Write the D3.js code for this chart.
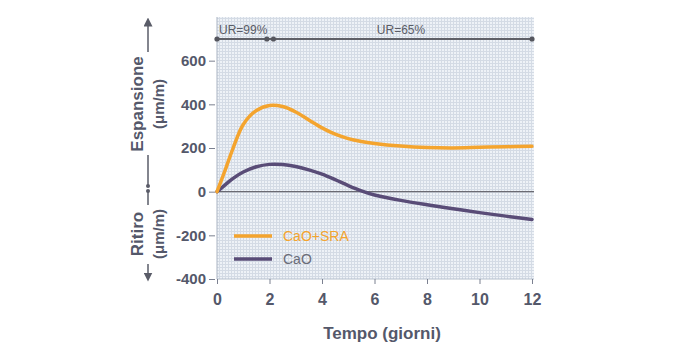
<!DOCTYPE html>
<html><head><meta charset="utf-8">
<script src="https://cdn.jsdelivr.net/npm/d3@7"></script>
<style>
html,body{margin:0;padding:0;background:#fff;}
svg{display:block;font-family:"Liberation Sans",Arial,sans-serif;}
</style></head>
<body><svg id="c" width="700" height="355"></svg>
<script>
// ---- data ----
const days = [0, 0.3, 0.6, 1, 1.5, 2, 2.5, 3, 3.5, 4, 4.5, 5, 5.5, 6, 7, 8, 9, 10, 11, 12];
const caoSra = [0, 95, 195, 308, 372, 395, 390, 365, 328, 292, 263, 243, 230, 221, 209, 202, 200, 203, 206, 208];
const cao = [0, 30, 60, 90, 114, 125, 124, 115, 100, 80, 55, 28, 4, -15, -40, -60, -78, -96, -112, -127];
const seriesNames = ["CaO+SRA", "CaO"];
const xTicks = [0, 2, 4, 6, 8, 10, 12];
const yTicks = [-400, -200, 0, 200, 400, 600];
const urLabels = ["UR=99%", "UR=65%"];
const urBreaks = [0, 1.9, 2.15, 12];

const svg = d3.select("#c");
const textCol = "#54586a";
const orange = "#f4a42e";
const purple = "#594c77";

const x = d3.scaleLinear().domain([0, 12]).range([217, 532]);
const y = d3.scaleLinear().domain([-400, 800]).range([279, 17]);

// pattern background (graph paper)
const defs = svg.append("defs");
const pat = defs.append("pattern").attr("id", "grid").attr("width", 3).attr("height", 3)
  .attr("patternUnits", "userSpaceOnUse");
pat.append("rect").attr("width", 3).attr("height", 3).attr("fill", "#eef2f7");
pat.append("rect").attr("width", 3).attr("height", 1).attr("fill", "#d4dbe5");
pat.append("rect").attr("width", 1).attr("height", 3).attr("fill", "#d4dbe5");

svg.append("rect").attr("x", x(0)).attr("y", y(800))
  .attr("width", x(12) - x(0) + 2).attr("height", y(-400) - y(800))
  .attr("fill", "url(#grid)");

// plot edges
svg.append("line").attr("x1", x(0)).attr("x2", x(0)).attr("y1", y(800)).attr("y2", y(-400))
  .attr("stroke", "#a9b3c2").attr("stroke-width", 1);
svg.append("line").attr("x1", x(0)).attr("x2", x(12) + 2).attr("y1", y(-400)).attr("y2", y(-400))
  .attr("stroke", "#b5bfcc").attr("stroke-width", 1);

// zero line
svg.append("line").attr("x1", x(0)).attr("x2", x(12) + 2).attr("y1", y(0)).attr("y2", y(0))
  .attr("stroke", "#6a6a72").attr("stroke-width", 1.2);

// axes
const yAxis = svg.append("g").attr("transform", `translate(${x(0) - 2},0)`)
  .call(d3.axisLeft(y).tickValues(yTicks).tickSize(6).tickPadding(3).tickFormat(d => String(d)));
yAxis.select(".domain").remove();
yAxis.selectAll(".tick line").attr("stroke", "#7b8090");
yAxis.selectAll("text").attr("fill", textCol).attr("font-size", 15).attr("font-weight", "bold");

const xAxis = svg.append("g").attr("transform", `translate(0,${y(-400)})`)
  .call(d3.axisBottom(x).tickValues(xTicks).tickSize(5).tickPadding(10).tickFormat(d => String(d)));
xAxis.select(".domain").remove();
xAxis.selectAll(".tick line").attr("stroke", "#7b8090");
xAxis.selectAll("text").attr("fill", textCol).attr("font-size", 16).attr("font-weight", "bold");

svg.append("text").attr("x", 382).attr("y", 339).attr("text-anchor", "middle")
  .attr("fill", textCol).attr("font-size", 17).attr("font-weight", "bold").text("Tempo (giorni)");

// curves
const line = d3.line().x((d, i) => x(days[i])).y(d => y(d)).curve(d3.curveCatmullRom.alpha(0.5));
svg.append("path").datum(cao).attr("d", line).attr("fill", "none")
  .attr("stroke", purple).attr("stroke-width", 3.5).attr("stroke-linecap", "round");
svg.append("path").datum(caoSra).attr("d", line).attr("fill", "none")
  .attr("stroke", orange).attr("stroke-width", 3.5).attr("stroke-linecap", "round");

// UR bar
const barY = 39;
svg.append("line").attr("x1", x(urBreaks[0])).attr("x2", x(urBreaks[3])).attr("y1", barY).attr("y2", barY)
  .attr("stroke", "#5f6068").attr("stroke-width", 2);
urBreaks.forEach(b => {
  svg.append("circle").attr("cx", x(b)).attr("cy", barY).attr("r", 2.6).attr("fill", "#55565e");
});
svg.append("text").attr("x", 219).attr("y", 34).attr("fill", "#5a5c66").attr("font-size", 12).text(urLabels[0]);
svg.append("text").attr("x", 401).attr("y", 34).attr("text-anchor", "middle").attr("fill", "#5a5c66")
  .attr("font-size", 12).text(urLabels[1]);

// legend
const leg = [[seriesNames[0], orange, orange, 236], [seriesNames[1], purple, "#6a6c78", 259]];
leg.forEach(([name, col, tcol, ly]) => {
  svg.append("line").attr("x1", 234).attr("x2", 272).attr("y1", ly).attr("y2", ly)
    .attr("stroke", col).attr("stroke-width", 3.5);
  svg.append("text").attr("x", 283).attr("y", ly + 5).attr("fill", tcol).attr("font-size", 14).text(name);
});

// y axis titles with arrows
const ax = 148;
const g = svg.append("g");
defs.append("marker").attr("id", "arr").attr("viewBox", "0 0 10 10").attr("refX", 5).attr("refY", 5)
  .attr("markerWidth", 6).attr("markerHeight", 6).attr("orient", "auto-start-reverse")
  .append("path").attr("d", "M0,0 L10,5 L0,10 z").attr("fill", "#5a5c68");
g.append("line").attr("x1", ax).attr("x2", ax).attr("y1", 52).attr("y2", 22)
  .attr("stroke", "#5a5c68").attr("stroke-width", 1.5).attr("marker-end", "url(#arr)");
g.append("line").attr("x1", ax).attr("x2", ax).attr("y1", 155).attr("y2", 186)
  .attr("stroke", "#5a5c68").attr("stroke-width", 1.5);
g.append("circle").attr("cx", ax).attr("cy", 186).attr("r", 2).attr("fill", "#5a5c68");
g.append("circle").attr("cx", ax).attr("cy", 191).attr("r", 2).attr("fill", "#5a5c68");
g.append("line").attr("x1", ax).attr("x2", ax).attr("y1", 191).attr("y2", 205)
  .attr("stroke", "#5a5c68").attr("stroke-width", 1.5);
g.append("line").attr("x1", ax).attr("x2", ax).attr("y1", 264).attr("y2", 277)
  .attr("stroke", "#5a5c68").attr("stroke-width", 1.5).attr("marker-end", "url(#arr)");

const tt = (txt, cx, cy, size) => svg.append("text")
  .attr("transform", `translate(${cx},${cy}) rotate(-90)`).attr("text-anchor", "middle")
  .attr("fill", textCol).attr("font-size", size).attr("font-weight", "bold").text(txt);
tt("Espansione", 143, 104, 17);
tt("(μm/m)", 164, 104, 15);
tt("Ritiro", 143, 234, 17);
tt("(μm/m)", 164, 234, 15);
</script></body></html>
